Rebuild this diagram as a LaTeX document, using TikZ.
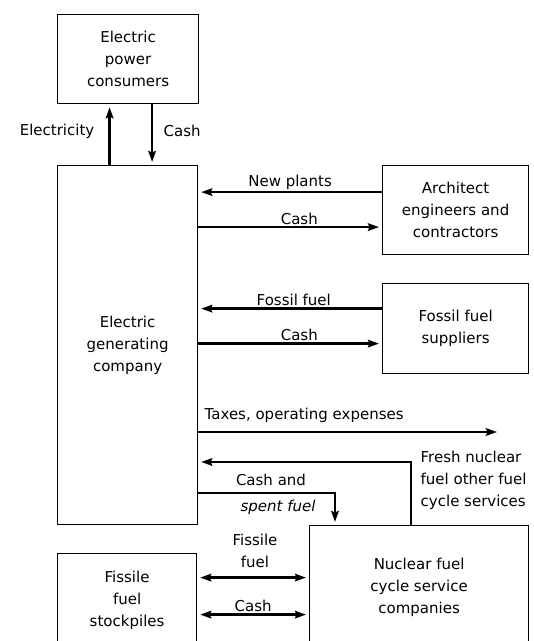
\documentclass[tikz,border=0pt]{standalone}
\usepackage{fontspec}
\setmainfont{DejaVu Sans}
\usetikzlibrary{arrows.meta,positioning,calc}

\begin{document}
\begin{tikzpicture}[
  x=1pt, y=-1pt,
  font=\fontsize{15}{22}\selectfont,
  >={Stealth[length=11pt, width=7.5pt, inset=1.5pt]},
  box/.style={rectangle, draw=black, line width=1.2pt, anchor=north west,
              align=center, inner sep=0pt},
  flow/.style={->, draw=black, line width=2.6pt, shorten >=3pt},
  dflow/.style={<->, draw=black, line width=2.6pt, shorten >=3pt, shorten <=3pt},
  lbl/.style={inner sep=1.5pt, align=center}
]
\clip (0,0) rectangle (534,641);

% ---------- Boxes ----------
\node[box, minimum width=141pt, minimum height=89pt] (cons) at (57,14)
  {Electric\\power\\consumers};
\node[box, minimum width=140pt, minimum height=359pt] (gen) at (57,165)
  {Electric\\generating\\company};
\node[box, minimum width=146pt, minimum height=89pt] (arch) at (382,165)
  {Architect\\engineers and\\contractors};
\node[box, minimum width=146pt, minimum height=90pt] (foss) at (382,283)
  {Fossil fuel\\suppliers};
\node[box, minimum width=219pt, minimum height=124pt] (nuc) at (309,525)
  {Nuclear fuel\\cycle service\\companies};
\node[box, minimum width=139pt, minimum height=94pt] (stock) at (57,553)
  {Fissile\\fuel\\stockpiles};

% free ends and corners
\coordinate (taxend) at (497,432);
\coordinate (fresh) at (411,462);
\coordinate (spent) at (335,493);

% ---------- Consumers ----------
\draw[flow] ([xshift=-18pt]gen.north) -- ([xshift=-18pt]gen.north |- cons.south);
\draw[flow] ([xshift=24pt]cons.south) -- ([xshift=24pt]cons.south |- gen.north);
\node[lbl, anchor=east] (lelec) at (96,131) {Electricity};
\node[lbl, anchor=west] (lcash1) at (162,131) {Cash};

% ---------- Architect engineers ----------
\draw[flow] ([yshift=18pt]arch.west) -- ([yshift=18pt]arch.west -| gen.east)
  node[lbl, midway, above] (lplants) {New plants};
\draw[flow] ([yshift=-17pt]gen.east |- arch.west) -- ([yshift=-17pt]arch.west)
  node[lbl, pos=0.55, above] (lcash2) {Cash};

% ---------- Fossil fuel ----------
\draw[flow] ([yshift=20pt]foss.west) -- ([yshift=20pt]foss.west -| gen.east)
  node[lbl, pos=0.48, above] (lfossil) {Fossil fuel};
\draw[flow] ([yshift=-15pt]gen.east |- foss.west) -- ([yshift=-15pt]foss.west)
  node[lbl, pos=0.55, above] (lcash3) {Cash};

% ---------- Taxes ----------
\draw[flow, shorten >=0pt] (gen.east |- taxend) -- (taxend);
\node[lbl, anchor=west] (ltax) at (203,415) {Taxes, operating expenses};

% ---------- Nuclear fuel cycle ----------
\draw[flow] (nuc.north -| fresh) -- (fresh) -- (gen.east |- fresh);
\node[lbl, anchor=north west, align=left] (lfresh) at (419,449)
  {Fresh nuclear\\fuel other fuel\\cycle services};
\draw[flow] (gen.east |- spent) -- (spent) -- (spent |- nuc.north);
\node[lbl] (lspent1) at (271,480) {Cash and};
\node[lbl] (lspent2) at (278,507) {\itshape spent fuel};

% ---------- Stockpiles ----------
\draw[dflow] ([yshift=23pt]stock.east) -- ([yshift=23pt]stock.east -| nuc.west);
\node[lbl] (lfissile) at (255,551) {Fissile\\fuel};
\draw[dflow] ([yshift=-14pt]stock.east) -- ([yshift=-14pt]stock.east -| nuc.west)
  node[lbl, midway, above] (lcash4) {Cash};

\end{tikzpicture}
\end{document}
